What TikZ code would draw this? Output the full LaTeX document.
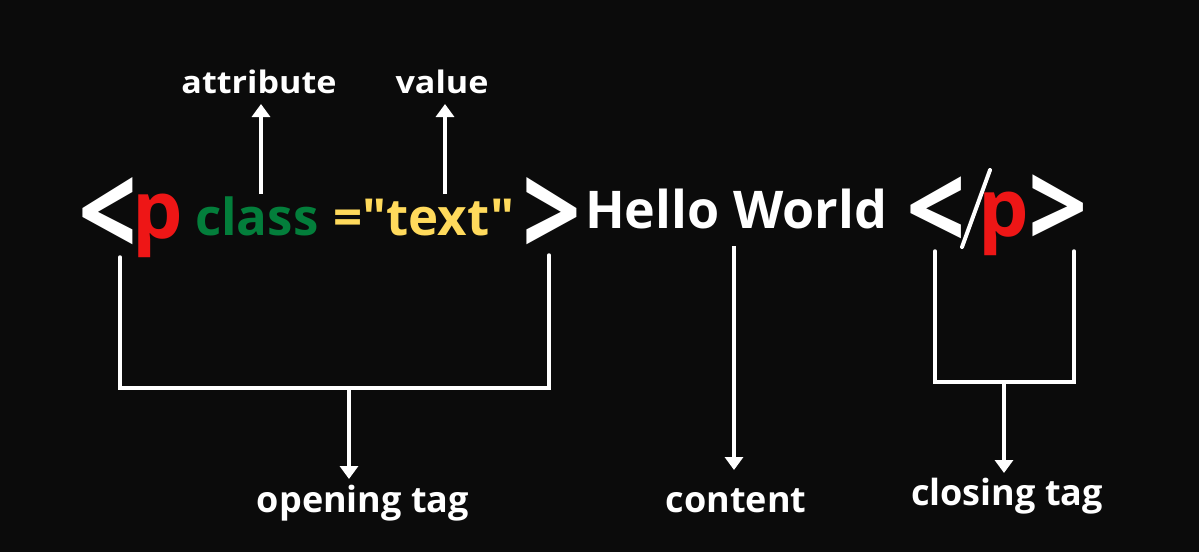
\documentclass[tikz,border=0pt]{standalone}
\usepackage{fontspec}
\setmainfont{Open Sans}[Ligatures=TeXOff]
\usetikzlibrary{arrows.meta}
\definecolor{bg}{HTML}{0B0B0B}
\definecolor{tagred}{HTML}{EE1616}
\definecolor{attrgreen}{HTML}{037E3B}
\definecolor{valyellow}{HTML}{FFDA5C}
\begin{document}
\begin{tikzpicture}[x=1pt,y=-1pt,
  lbl/.style={text=white,font=\bfseries\fontsize{36}{36}\selectfont,inner sep=0,anchor=base},
  toplbl/.style={text=white,font=\bfseries\fontsize{31}{31}\selectfont,inner sep=0,anchor=base},
  code/.style={font=\bfseries\fontsize{51}{51}\selectfont,inner sep=0,anchor=base west},
  chev/.style={text=white,font=\bfseries\fontsize{100}{100}\selectfont,inner sep=0,anchor=base west},
  ptag/.style={text=tagred,font=\bfseries\fontsize{80}{80}\selectfont,inner sep=0,anchor=base west},
  arr/.style={white,line width=4pt,-{Triangle[width=18pt,length=13pt]}},
  brk/.style={white,line width=3.5pt,line cap=round,line join=miter}]
\fill[bg] (0,0) rectangle (1199,552);
\useasboundingbox (0,0) rectangle (1199,552);
% opening tag
\node[chev] (lt1) at (78,257) {\scalebox{1.03}[1.28]{<}\kern-8pt};
\node[ptag] (p1) at (132,238) {p\kern-5pt};
\node[code,text=attrgreen] (cls) at (195,235) {class};
\node[code,text=valyellow] (val) at (333,235) {="text"};
\node[chev] (gt1) at (522,257) {\scalebox{1.03}[1.28]{>}\kern-8pt};
% content
\node[code,text=white,font=\bfseries\fontsize{52}{52}\selectfont] (hello) at (585,228) {Hello World};
% closing tag
\node[chev] (lt2) at (906,250) {\scalebox{1.04}[1.18]{<}\kern-8pt};
\coordinate (s1) at (990,170);
\coordinate (s2) at (962,247);
\draw[white,line width=4pt,line cap=round] (s1) -- (s2);
\node[ptag] (p2) at (978,236) {p\kern-6pt};
\node[chev] (gt2) at (1028,248) {\scalebox{1.04}[1.18]{>}\kern-8pt};
% labels
\node[toplbl] (attr) at (259,93) {\scalebox{1.1}[1]{attribute}};
\node[toplbl] (value) at (442,93) {\scalebox{1.1}[1]{value}};
\node[lbl] (open) at (363,512) {opening tag};
\node[lbl] (content) at (736,512) {content};
\node[lbl] (close) at (1007,505) {closing tag};
% attribute / value arrows
\coordinate (a0) at (261,194);
\coordinate (a1) at (261,104);
\coordinate (v0) at (445,194);
\coordinate (v1) at (445,104);
\draw[arr] (a0) -- (a1);
\draw[arr] (v0) -- (v1);
% opening bracket
\coordinate (ol) at (120,257);
\coordinate (or) at (549,255);
\coordinate (om) at (349,388);
\coordinate (ot) at (349,479);
\draw[brk] (ol) -- (ol |- om) -- (or |- om) -- (or);
\draw[arr] (om) -- (ot);
% content arrow
\coordinate (c0) at (734,246);
\coordinate (c1) at (734,470);
\draw[arr] (c0) -- (c1);
% closing bracket
\coordinate (cl) at (935,251);
\coordinate (cr) at (1074,251);
\coordinate (cm) at (1004,382);
\coordinate (ct) at (1004,473);
\draw[brk] (cl) -- (cl |- cm) -- (cr |- cm) -- (cr);
\draw[arr] (cm) -- (ct);
\end{tikzpicture}
\end{document}
